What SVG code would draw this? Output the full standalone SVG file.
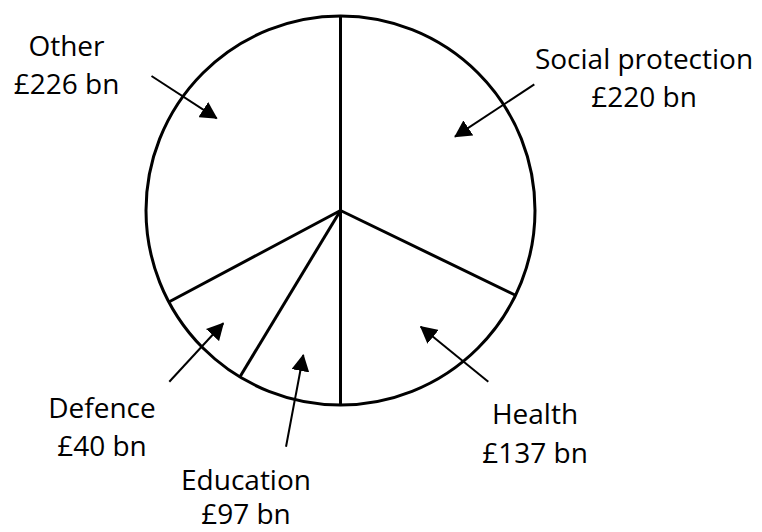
<svg xmlns="http://www.w3.org/2000/svg" width="762" height="532" viewBox="0 0 762 532">
<style>
.lbl{font-family:"Open Sans","Noto Sans",sans-serif;font-size:28px;fill:#000;text-anchor:middle}
.pie{fill:none;stroke:#000;stroke-width:3}
.arr{fill:none;stroke:#000;stroke-width:2}
</style>
<defs>
<marker id="ah" markerUnits="userSpaceOnUse" viewBox="0 0 17 18" refX="16" refY="9" markerWidth="17" markerHeight="18" orient="auto">
<path d="M0,0 L17,9 L0,18 z" fill="#000"/>
</marker>
</defs>
<g id="pie">
<circle class="pie" cx="340.5" cy="210.5" r="194.5"/>
<line class="pie" x1="340.5" y1="16" x2="340.5" y2="405"/>
<line class="pie" x1="340.5" y1="210.5" x2="515" y2="295"/>
<line class="pie" x1="340.5" y1="210.5" x2="169.3" y2="301.7"/>
<line class="pie" x1="340.5" y1="210.5" x2="240" y2="376.7"/>
</g>
<g id="connectors">
<line class="arr" x1="151.5" y1="76" x2="216.7" y2="118.3" marker-end="url(#ah)"/>
<line class="arr" x1="534.3" y1="84.3" x2="455" y2="136.7" marker-end="url(#ah)"/>
<line class="arr" x1="169.3" y1="381.7" x2="223.3" y2="323.3" marker-end="url(#ah)"/>
<line class="arr" x1="286" y1="446.7" x2="303.3" y2="355" marker-end="url(#ah)"/>
<line class="arr" x1="488.3" y1="381.7" x2="420.7" y2="326.7" marker-end="url(#ah)"/>
</g>
<g id="other"><text class="lbl" x="66.5" y="56">Other</text><text class="lbl" x="66.5" y="94">£226 bn</text></g>
<g id="social"><text class="lbl" x="644" y="69">Social protection</text><text class="lbl" x="644" y="107">£220 bn</text></g>
<g id="defence"><text class="lbl" x="102" y="418">Defence</text><text class="lbl" x="102" y="456">£40 bn</text></g>
<g id="education"><text class="lbl" x="246" y="490">Education</text><text class="lbl" x="246" y="524">£97 bn</text></g>
<g id="health"><text class="lbl" x="535" y="424">Health</text><text class="lbl" x="535" y="462.5">£137 bn</text></g>
</svg>
